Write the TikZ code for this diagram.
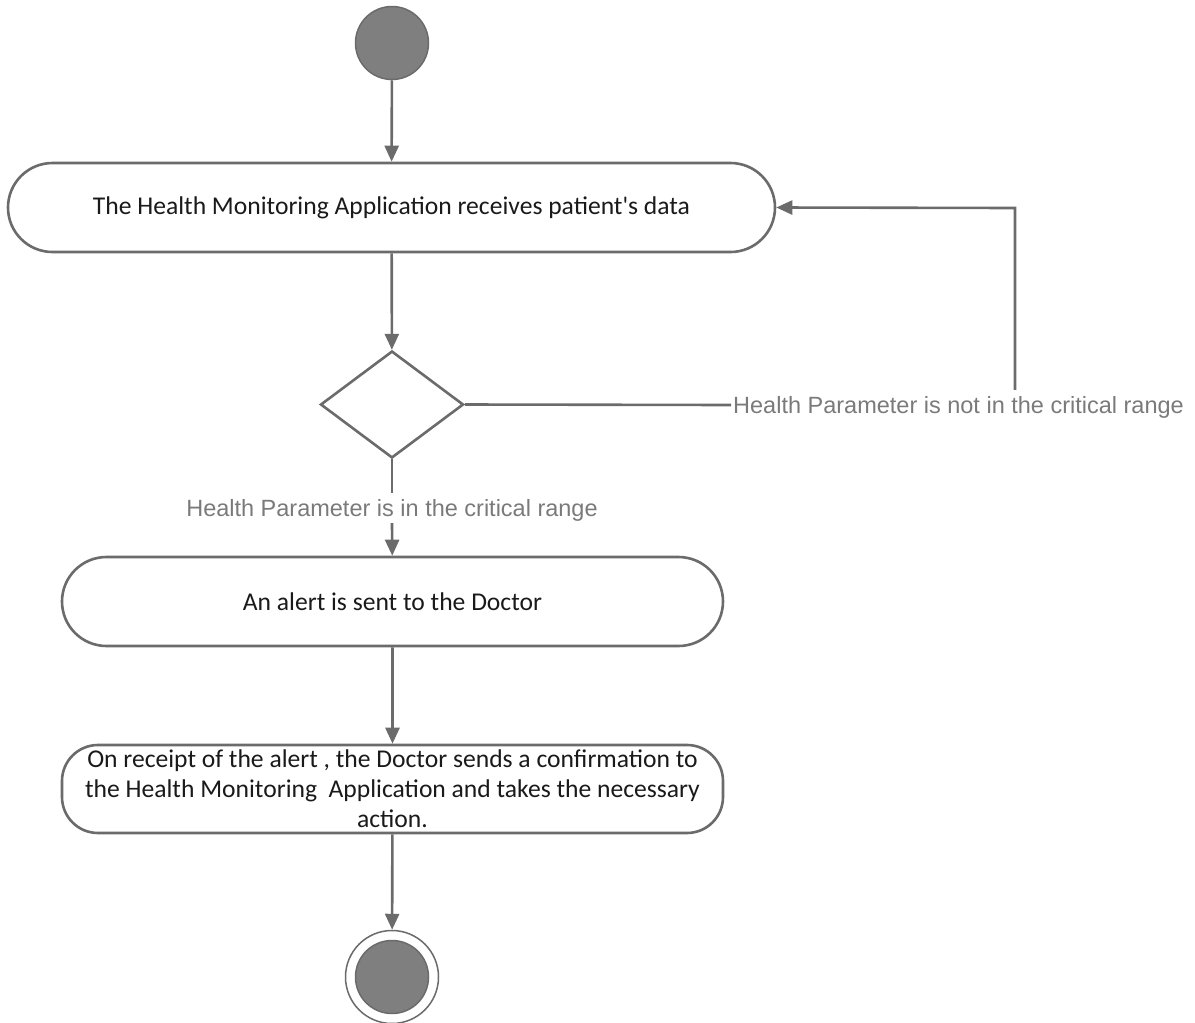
\documentclass[tikz,border=0pt]{standalone}
\usepackage{fontspec}
\setmainfont{Carlito}[Ligatures=TeXOff]
\newfontfamily\guardfont{Liberation Sans}
\usetikzlibrary{shapes.geometric,shapes.misc,arrows.meta}
\definecolor{linegray}{HTML}{6B6B6B}
\definecolor{dotgray}{HTML}{7F7F7F}
\definecolor{guardgray}{HTML}{7A7A7A}
\definecolor{inkblack}{HTML}{1A1A1A}
\begin{document}
\begin{tikzpicture}[x=1pt,y=-1pt,
  wire/.style={draw=linegray, line width=2.6pt},
  flow/.style={wire, -{Triangle[width=14pt,length=16pt]}},
  activity/.style={rounded rectangle, draw=linegray, line width=2.6pt, fill=white,
    text=inkblack, font=\fontsize{25.6}{30}\selectfont, minimum height=89pt, inner sep=0pt},
  decision/.style={diamond, draw=linegray, line width=2.6pt, fill=white,
    minimum width=143pt, minimum height=107pt, inner sep=0pt},
  guard/.style={text=guardgray, font=\guardfont\fontsize{23.5}{26}\selectfont,
    text height=16pt, text depth=0pt, inner ysep=7pt, inner xsep=2pt},
  startdot/.style={circle, draw=linegray, fill=dotgray, line width=1.5pt,
    minimum size=73pt, inner sep=0pt},
  endring/.style={circle, draw=linegray, line width=1.5pt, fill=white,
    minimum size=93pt, inner sep=0pt}]
  \useasboundingbox (0,0) rectangle (1195,1023);

  % initial node
  \node[startdot] (start) at (392,43) {};

  % receive data
  \node[activity, minimum width=767pt] (receive) at (391.5,207.5)
    {The Health Monitoring Application receives patient's data};

  % decision on the health parameter
  \node[decision] (check) at (392,404.5) {};

  % guards
  \node[guard] (critical) at (392,508) {Health Parameter is in the critical range};
  \node[guard, anchor=west] (normal) at (731,405) {Health Parameter is not in the critical range};
  \coordinate (turn) at (1015,208);

  % alert
  \node[activity, minimum width=661pt] (alert) at (392.5,601.5)
    {An alert is sent to the Doctor};

  % doctor's response
  \node[draw=linegray, line width=2.6pt, fill=white, rounded corners=36pt,
    minimum width=661pt, minimum height=88pt, inner sep=0pt, text=inkblack,
    align=center, font=\fontsize{25.6}{30}\selectfont]
    (confirm) at (392.5,789)
    {On receipt of the alert , the Doctor sends a confirmation to\\
     the Health Monitoring\ \ Application and takes the necessary\\
     action.};

  % final node
  \node[endring] (final) at (392,977) {};
  \node[startdot] (finaldot) at (final) {};

  % connectors
  \draw[flow] (start) -- (receive);
  \draw[flow] (receive) -- (check);
  \draw[wire] (check.south) -- (critical.north);
  \draw[flow] (critical.south) -- (alert);
  \draw[wire] (check.east) -- (normal.west);
  \draw[flow] (normal.north -| turn) -- (turn) -- (receive.east);
  \draw[flow] (alert) -- (confirm);
  \draw[flow] (confirm) -- (final);
\end{tikzpicture}
\end{document}
